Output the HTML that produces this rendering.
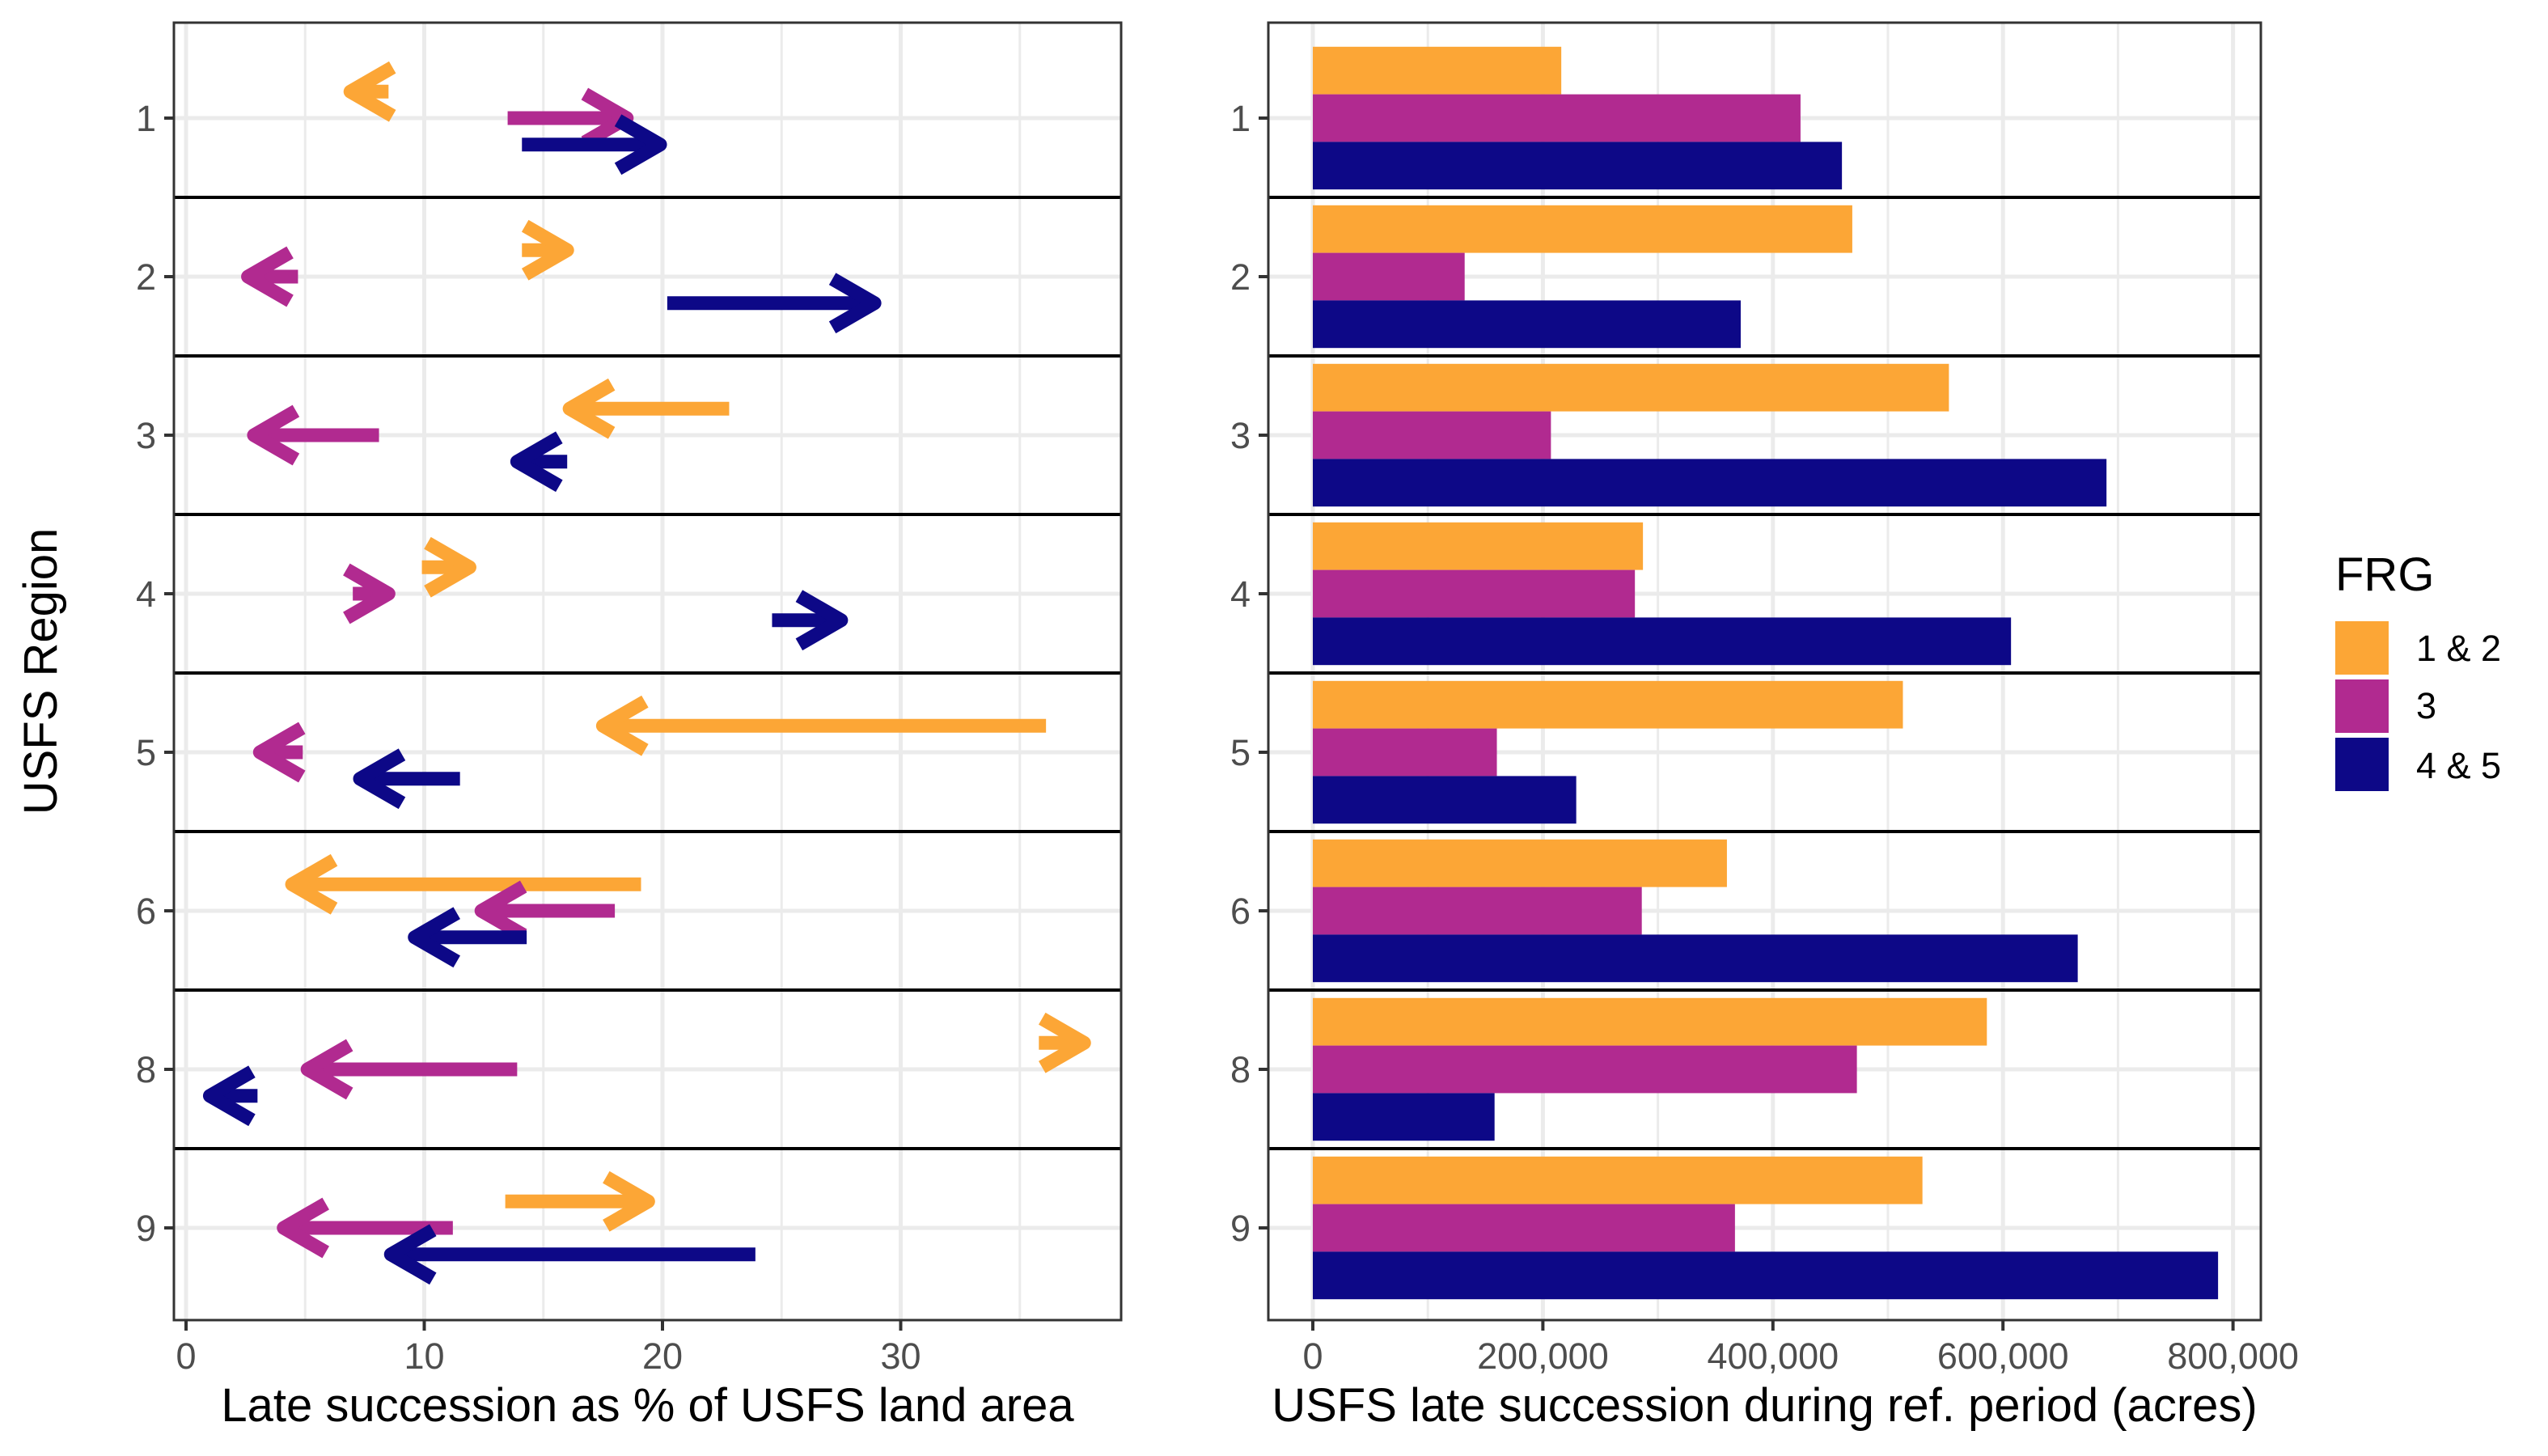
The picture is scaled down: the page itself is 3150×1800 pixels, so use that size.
<!DOCTYPE html>
<html><head><meta charset="utf-8"><style>
html,body{margin:0;padding:0;background:#fff}
svg{display:block;font-family:"Liberation Sans",Arial,sans-serif}
</style></head><body>
<svg id="chart" width="3150" height="1800" viewBox="0 0 3150 1800" xmlns="http://www.w3.org/2000/svg">
<rect width="3150" height="1800" fill="#fff"/>
<g id="left"></g>
<g id="right"></g>
<g id="legend"></g>
</svg>
<script>
const regions = ["1","2","3","4","5","6","8","9"];
const groups = ["1 & 2","3","4 & 5"];
const colors = ["#FCA636","#B12A90","#0D0887"];
// arrow start / end (% of land area) per group, per region
const startOrange = [8.5,14.1,22.8,9.9,36.1,19.1,35.8,13.4];
const endOrange   = [6.9,16.0,16.1,11.9,17.5,4.45,37.7,19.4];
const startPurple = [13.5,4.7,8.1,7.0,4.9,18.0,13.9,11.2];
const endPurple   = [18.5,2.6,2.85,8.5,3.1,12.4,5.1,4.1];
const startNavy   = [14.1,20.2,16.0,24.6,11.5,14.3,3.0,23.9];
const endNavy     = [19.9,28.9,13.9,27.5,7.3,9.6,1.0,8.6];
// acres per group per region
const acresOrange = [216000,469000,553000,287000,513000,360000,586000,530000];
const acresPurple = [424000,132000,207000,280000,160000,286000,473000,367000];
const acresNavy   = [460000,372000,690000,607000,229000,665000,158000,787000];
const leftTicks = [0,10,20,30];
const leftMinor = [5,15,25,35];
const rightTicks = [0,200000,400000,600000,800000];
const rightTickLabels = ["0","200,000","400,000","600,000","800,000"];
const rightMinor = [100000,300000,500000,700000];

const NS="http://www.w3.org/2000/svg";
function mk(parent,tag,attrs,text){const e=document.createElementNS(NS,tag);for(const k in attrs)e.setAttribute(k,attrs[k]);if(text!==undefined)e.textContent=text;parent.appendChild(e);return e;}
const panelTop=28, panelBottom=1632;
const yU = i => 146 + i*196;
const lx = v => 230 + v*29.45;
const rx = v => 1623 + v*(284.4/200000);
const L={x0:215,x1:1386}, R={x0:1568,x1:2795};

function panel(g,P,name,xf,ticks,minor){
  let e=mk(g,'rect',{x:P.x0,y:panelTop,width:P.x1-P.x0,height:panelBottom-panelTop,fill:'#fff'});
  
  
  minor.forEach(v=>{let l=mk(g,'line',{x1:xf(v),x2:xf(v),y1:panelTop,y2:panelBottom,stroke:'#EBEBEB','stroke-width':3});
    
    });
  ticks.forEach(v=>{let l=mk(g,'line',{x1:xf(v),x2:xf(v),y1:panelTop,y2:panelBottom,stroke:'#EBEBEB','stroke-width':5});
    
    });
  regions.forEach((r,i)=>{let l=mk(g,'line',{x1:P.x0,x2:P.x1,y1:yU(i),y2:yU(i),stroke:'#EBEBEB','stroke-width':5});
    
    });
}
function frame(g,P,name,xf,ticks,labels,title){
  for(let i=0;i<regions.length-1;i++){const y=(yU(i)+yU(i+1))/2;
    let l=mk(g,'line',{x1:P.x0,x2:P.x1,y1:y,y2:y,stroke:'#000','stroke-width':4});
    
    }
  let b=mk(g,'rect',{x:P.x0,y:panelTop,width:P.x1-P.x0,height:panelBottom-panelTop,fill:'none',stroke:'#333','stroke-width':3});
  
  
  regions.forEach((r,i)=>{
    let t=mk(g,'line',{x1:P.x0-12,x2:P.x0,y1:yU(i),y2:yU(i),stroke:'#333','stroke-width':4});
    
    
    let tx=mk(g,'text',{x:P.x0-22,y:yU(i)+16,'text-anchor':'end','font-size':45,fill:'#4D4D4D'},r);
    
    
  });
  ticks.forEach((v,i)=>{
    let t=mk(g,'line',{x1:xf(v),x2:xf(v),y1:panelBottom,y2:panelBottom+13,stroke:'#333','stroke-width':4});
    
    
    let tx=mk(g,'text',{x:xf(v),y:1692,'text-anchor':'middle','font-size':45,fill:'#4D4D4D'},labels[i]);
    
    
  });
  let tt=mk(g,'text',{x:(P.x0+P.x1)/2,y:1757,'text-anchor':'middle','font-size':58,fill:'#000'},title);
  
  
}
const gl=document.getElementById('left'), gr=document.getElementById('right'), lg=document.getElementById('legend');
panel(gl,L,'left-panel',lx,leftTicks,leftMinor);
panel(gr,R,'right-panel',rx,rightTicks,rightMinor);

const starts=[startOrange,startPurple,startNavy], ends=[endOrange,endPurple,endNavy];
const offs=[-0.167,0,0.167];
for(let k=0;k<3;k++){
  regions.forEach((r,i)=>{
    const y=yU(i)+offs[k]*196, x1=lx(starts[k][i]), x2=lx(ends[k][i]);
    const dir = x2>=x1?1:-1;
    const a=mk(gl,'g',{});
    
    
    mk(a,'line',{x1:x1,x2:x2-dir*6,y1:y,y2:y,stroke:colors[k],'stroke-width':17});
    const hx=x2-dir*52;
    mk(a,'polyline',{points:`${hx},${y-30} ${x2},${y} ${hx},${y+30}`,fill:'none',stroke:colors[k],'stroke-width':17,'stroke-linejoin':'round','stroke-linecap':'butt'});
  });
}
const acres=[acresOrange,acresPurple,acresNavy];
for(let k=0;k<3;k++){
  regions.forEach((r,i)=>{
    const y0=yU(i)+(-0.45+0.3*k)*196;
    const b=mk(gr,'rect',{x:rx(0),y:y0,width:rx(acres[k][i])-rx(0),height:0.3*196,fill:colors[k]});
    
    
  });
}
frame(gl,L,'left-panel',lx,leftTicks,leftTicks.map(String),'Late succession as % of USFS land area');
frame(gr,R,'right-panel',rx,rightTicks,rightTickLabels,'USFS late succession during ref. period (acres)');
let yt=mk(gl,'text',{x:0,y:0,transform:'translate(70,830) rotate(-90)','text-anchor':'middle','font-size':58,fill:'#000'},'USFS Region');



let lt=mk(lg,'text',{x:2887,y:730,'font-size':58,fill:'#000'},'FRG');


const keyY=[768,840,912], labY=[817,888,962];
groups.forEach((gname,k)=>{
  const e=mk(lg,'g',{});
  
  
  mk(e,'rect',{x:2887,y:keyY[k],width:66,height:66,fill:colors[k]});
  mk(e,'text',{x:2987,y:labY[k],'font-size':45,fill:'#000'},gname);
});
</script>
</body></html>
